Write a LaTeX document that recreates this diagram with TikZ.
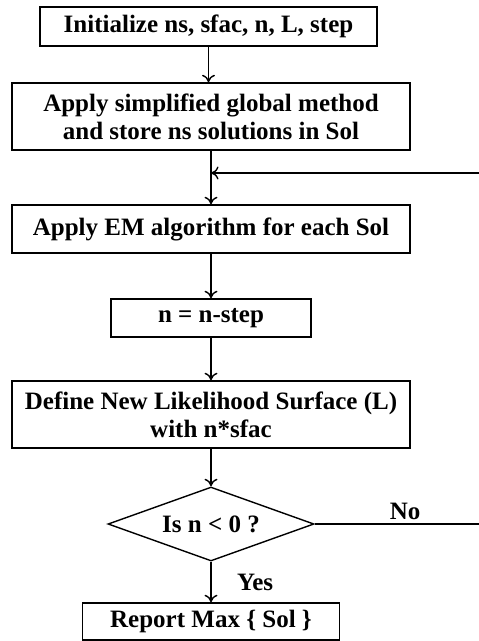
\documentclass[tikz,border=0pt]{standalone}
\usepackage{fontspec}
\setmainfont{Liberation Serif}
\usetikzlibrary{shapes.geometric,arrows.meta}

\begin{document}
\begin{tikzpicture}[->,>={To[length=7.5pt,width=13pt]},line width=1.4pt,
		font=\fontsize{25}{28}\selectfont\bfseries,
		proc box/.style={rectangle,draw,align=center,inner sep=0pt},
		test node/.style={diamond,draw,aspect=2.8,inner sep=0pt,minimum width=206pt,minimum height=74pt}]
		
		\useasboundingbox (0,0) rectangle (479pt,-641pt);
		
		\node[proc box, minimum width=337pt, minimum height=39pt] (1) at (208.5pt,-26.5pt) {Initialize ns, sfac, n, L, step};
		\node[proc box, minimum width=398pt, minimum height=67pt] (2) at (211pt,-116.5pt) {Apply simplified global method\\and store ns solutions in Sol};
		\node[proc box, minimum width=398pt, minimum height=48pt] (3) [below of=2, node distance=112.5pt] {Apply EM algorithm for each Sol};
		\node[proc box, minimum width=200pt, minimum height=38pt] (4) [below of=3, node distance=89pt] {n = n-step};
		\node[proc box, minimum width=398pt, minimum height=67pt] (5) [below of=4, node distance=96.5pt] {Define New Likelihood Surface (L)\\with n*sfac};
		\node[test node] (6) [below of=5, node distance=109.5pt] {Is n < 0 ?};
		\node[proc box, minimum width=257pt, minimum height=37pt] (7) [below of=6, node distance=97.5pt] {Report Max \{ Sol \}};
		
		\coordinate (back) at (479pt,-173pt);
		
		\path
		(1) edge (1 |- 2.north)
		(2) edge (3)
		(3) edge (4)
		(4) edge (5)
		(5) edge (6)
		(6) edge node[right, xshift=22pt] {Yes} (7)
		(back) edge (back -| 2.south)
		(6.east) edge[-] node[above, pos=0.55] {No} (6.east -| back);
\end{tikzpicture}
\end{document}
